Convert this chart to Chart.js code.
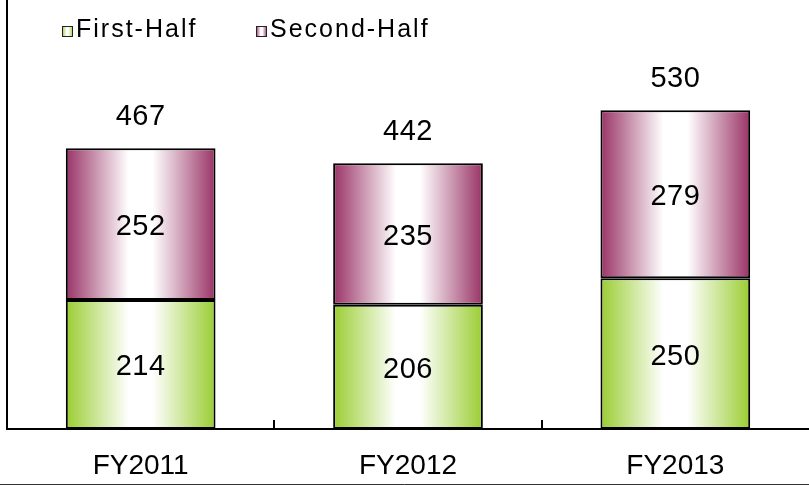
<!DOCTYPE html>
<html>
<head>
<meta charset="utf-8">
<title>First-Half / Second-Half</title>
<script src="https://cdn.jsdelivr.net/npm/chart.js@4"></script>
<style>
  html, body { margin: 0; padding: 0; background: #fff; }
  #wrap { width: 809px; height: 486px; }
</style>
</head>
<body>
<div id="wrap"><canvas id="chart" width="809" height="486"></canvas></div>
<script>
const categories = ["FY2011", "FY2012", "FY2013"];
const seriesNames = ["First-Half", "Second-Half"];
const firstHalf = [214.4, 206.4, 250.4];
const secondHalf = [252.4, 235.4, 279.4];

const edgeColors = ["#9acd32", "#993366"];
const barShare = 0.56;
const fontName = "'Liberation Sans', Arial, sans-serif";

// horizontal gradient: coloured edges, white in the middle of each bar
function makeGradient(c, left, right, color) {
  const g = c.createLinearGradient(left, 0, right, 0);
  g.addColorStop(0, color);
  g.addColorStop(0.42, "#ffffff");
  g.addColorStop(0.58, "#ffffff");
  g.addColorStop(1, color);
  return g;
}

function barFill(idx) {
  return function (ctx) {
    const chart = ctx.chart;
    if (!chart.chartArea || ctx.dataIndex === undefined) return edgeColors[idx];
    const xs = chart.scales.x;
    const cx = xs.getPixelForValue(ctx.dataIndex);
    const half = xs.width / categories.length * barShare / 2;
    return makeGradient(chart.ctx, cx - half, cx + half, edgeColors[idx]);
  };
}

const extras = {
  id: "extras",
  afterDatasetsDraw(chart) {
    const c = chart.ctx;
    const area = chart.chartArea;
    const xs = chart.scales.x;
    c.save();

    // values inside segments and totals on top
    c.font = "29px " + fontName;
    c.fillStyle = "#000";
    c.textAlign = "center";
    c.textBaseline = "middle";
    c.letterSpacing = "0.5px";
    chart.data.datasets.forEach(function (ds, di) {
      chart.getDatasetMeta(di).data.forEach(function (bar, i) {
        c.fillText(String(Math.round(ds.data[i])), bar.x, (bar.y + bar.base) / 2 + 3);
      });
    });
    const topMeta = chart.getDatasetMeta(chart.data.datasets.length - 1);
    topMeta.data.forEach(function (bar, i) {
      const total = firstHalf[i] + secondHalf[i];
      c.fillText(String(Math.round(total)), bar.x, bar.y - 31);
    });

    // small tick marks between categories, pointing up
    c.strokeStyle = "#000";
    c.lineWidth = 2;
    for (let i = 0; i < categories.length - 1; i++) {
      const x = Math.round((xs.getPixelForValue(i) + xs.getPixelForValue(i + 1)) / 2);
      c.beginPath();
      c.moveTo(x, area.bottom - 9);
      c.lineTo(x, area.bottom - 1);
      c.stroke();
    }

    // legend
    const legendX = [62, 256];
    c.font = "25px " + fontName;
    c.textAlign = "left";
    c.letterSpacing = "2px";
    chart.data.datasets.forEach(function (ds, di) {
      const x = legendX[di];
      c.fillStyle = makeGradient(c, x, x + 11, edgeColors[di]);
      c.fillRect(x, 26, 11, 11);
      c.lineWidth = 1;
      c.strokeStyle = "#222";
      c.strokeRect(x + 0.5, 26.5, 10, 10);
      c.fillStyle = "#000";
      c.fillText(ds.label, x + 14, 30);
    });
    c.letterSpacing = "0px";

    // frame line along the bottom
    c.strokeStyle = "#333";
    c.lineWidth = 1;
    c.beginPath();
    c.moveTo(0, 484.5);
    c.lineTo(chart.width, 484.5);
    c.stroke();

    c.restore();
  }
};

new Chart(document.getElementById("chart"), {
  type: "bar",
  data: {
    labels: categories,
    datasets: [
      { label: seriesNames[0], data: firstHalf, backgroundColor: barFill(0) },
      { label: seriesNames[1], data: secondHalf, backgroundColor: barFill(1) }
    ]
  },
  options: {
    responsive: false,
    animation: false,
    devicePixelRatio: 1,
    layout: { padding: { left: 7, right: 0, top: 0, bottom: 0 } },
    datasets: {
      bar: {
        borderColor: "#000",
        borderWidth: 2,
        borderSkipped: false,
        barPercentage: barShare,
        categoryPercentage: 1
      }
    },
    plugins: {
      legend: { display: false },
      tooltip: { enabled: false }
    },
    scales: {
      x: {
        stacked: true,
        grid: { display: false, drawTicks: false },
        border: { display: true, color: "#000", width: 2 },
        ticks: { color: "#000", padding: 20, font: { family: fontName, size: 28 } },
        afterFit: function (scale) { scale.height = 57; }
      },
      y: {
        stacked: true,
        min: 0,
        max: 713,
        grid: { display: false },
        border: { display: true, color: "#000", width: 2 },
        ticks: { display: false },
        afterFit: function (scale) { scale.width = 0; }
      }
    }
  },
  plugins: [extras]
});
</script>
</body>
</html>
